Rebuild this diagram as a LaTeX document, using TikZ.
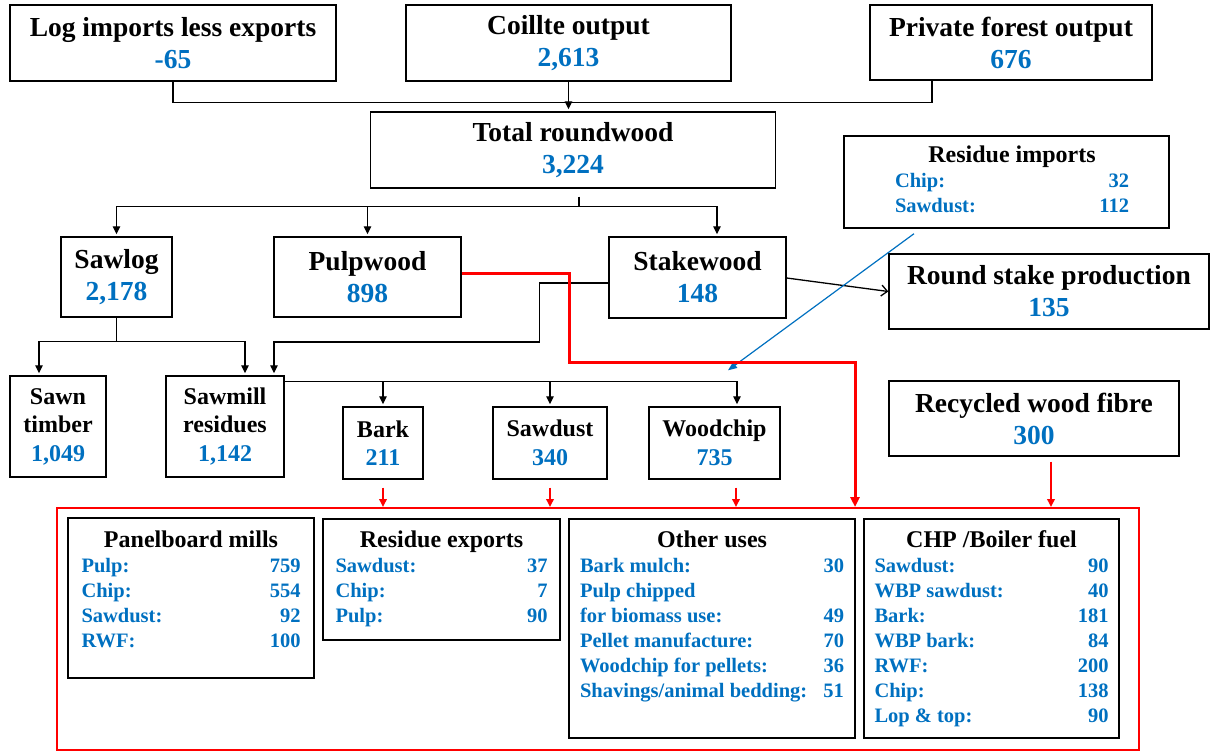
\documentclass[tikz,border=0pt]{standalone}
\usepackage{fontspec}
\setmainfont{Liberation Serif}
\usetikzlibrary{arrows.meta}
\definecolor{numblue}{RGB}{0,112,192}
\definecolor{flowred}{RGB}{255,0,0}
\newcommand{\bigfont}{\fontsize{27.5}{32}\selectfont\bfseries}
\newcommand{\midfont}{\fontsize{24}{28.5}\selectfont\bfseries}
\newcommand{\rowfont}{\fontsize{20.5}{25}\selectfont\bfseries}
\newcommand{\bluenum}[1]{\textcolor{numblue}{#1}}
\newcommand{\flowlist}[3]{\begin{tabular*}{#1}{@{}l@{\extracolsep{\fill}}r@{}}\multicolumn{2}{c}{\color{black}\fontsize{24}{25}\selectfont #2}\\#3\end{tabular*}}

\begin{document}
\begin{tikzpicture}[x=1pt,y=-1pt,
  flowbox/.style={draw, line width=1.4pt, align=center, inner sep=0pt, font=\bigfont},
  smallbox/.style={flowbox, font=\midfont},
  listbox/.style={draw, line width=1.4pt, inner sep=0pt},
  listtext/.style={anchor=north, inner sep=0pt, font=\rowfont, text=numblue},
  link/.style={line width=1.3pt},
  arr/.style={link, -{Triangle[length=8pt,width=7.5pt]}, shorten >=2pt},
  openarr/.style={link, -{Straight Barb[length=6pt,width=11pt]}},
  redarr/.style={line width=1.8pt, flowred, -{Triangle[length=8pt,width=7.5pt]}},
  redthick/.style={line width=3pt, flowred, -{Triangle[length=10pt,width=9pt]}},
  bluearr/.style={line width=1.2pt, numblue, -{Triangle[length=9pt,width=7pt]}}]
\useasboundingbox (0,0) rectangle (1211,752);

\node[flowbox, minimum width=326pt, minimum height=76pt] (logimp) at (173,43) {Log imports less exports\\\bluenum{-65}};
\node[flowbox, minimum width=325pt, minimum height=76pt] (coillte) at (568.5,43) {Coillte output\\\bluenum{2,613}};
\node[flowbox, minimum width=282pt, minimum height=75pt] (private) at (1011,42.5) {Private forest output\\\bluenum{676}};
\node[flowbox, minimum width=405pt, minimum height=76pt] (total) at (573,150) {Total roundwood\\\bluenum{3,224}};

\node[flowbox, minimum width=111pt, minimum height=80pt] (sawlog) at (116.5,277) {Sawlog\\\bluenum{2,178}};
\node[flowbox, minimum width=187pt, minimum height=80pt] (pulpwood) at (367.5,277) {Pulpwood\\\bluenum{898}};
\node[flowbox, minimum width=177pt, minimum height=81pt] (stakewood) at (697.5,277.5) {Stakewood\\\bluenum{148}};
\node[flowbox, minimum width=320pt, minimum height=75pt] (roundstake) at (1049,291.5) {Round stake production\\\bluenum{135}};
\node[listbox, minimum width=325pt, minimum height=92pt] (resimp) at (1006.5,182) {};
\node[listtext] (resimptext) at ([xshift=5.5pt,yshift=-9.5pt]resimp.north) {\flowlist{234pt}{Residue imports}{Chip: & 32\\ Sawdust: & 112}};

\node[smallbox, minimum width=96pt, minimum height=101pt] (sawn) at (58,426.5) {Sawn\\timber\\\bluenum{1,049}};
\node[smallbox, minimum width=118pt, minimum height=101pt] (sawmill) at (225,426.5) {Sawmill\\residues\\\bluenum{1,142}};
\node[smallbox, minimum width=80pt, minimum height=72pt] (bark) at (383,443) {Bark\\\bluenum{211}};
\node[smallbox, minimum width=114pt, minimum height=72pt] (sawdust) at (550,443) {Sawdust\\\bluenum{340}};
\node[smallbox, minimum width=131pt, minimum height=72pt] (woodchip) at (714.5,443) {Woodchip\\\bluenum{735}};
\node[flowbox, minimum width=290pt, minimum height=75pt] (rwf) at (1034,418.5) {Recycled wood fibre\\\bluenum{300}};

\node[draw=flowred, line width=2pt, minimum width=1082pt, minimum height=242pt] (usesframe) at (598,629) {};
\node[listbox, minimum width=246pt, minimum height=160pt] (panel) at (191,598) {};
\node[listtext] (paneltext) at ([yshift=-12.5pt]panel.north) {\flowlist{219pt}{Panelboard mills}{Pulp: & 759\\ Chip: & 554\\ Sawdust: & 92\\ RWF: & 100}};
\node[listbox, minimum width=237pt, minimum height=121pt] (resexp) at (441.5,579.5) {};
\node[listtext] (resexptext) at ([yshift=-11.5pt]resexp.north) {\flowlist{212pt}{Residue exports}{Sawdust: & 37\\ Chip: & 7\\ Pulp: & 90}};
\node[listbox, minimum width=286pt, minimum height=219pt] (otheruse) at (712,628.5) {};
\node[listtext] (otherusetext) at ([yshift=-11.5pt]otheruse.north) {\flowlist{264pt}{Other uses}{Bark mulch: & 30\\ Pulp chipped & \\ for biomass use: & 49\\ Pellet manufacture: & 70\\ Woodchip for pellets: & 36\\ Shavings/animal bedding: & 51}};
\node[listbox, minimum width=255pt, minimum height=219pt] (chp) at (991.5,628.5) {};
\node[listtext] (chptext) at ([yshift=-11.5pt]chp.north) {\flowlist{234pt}{CHP /Boiler fuel}{Sawdust: & 90\\ WBP sawdust: & 40\\ Bark: & 181\\ WBP bark: & 84\\ RWF: & 200\\ Chip: & 138\\ Lop \& top: & 90}};

\coordinate (rwsplit) at ([xshift=6pt,yshift=-18pt]total.south);
\coordinate (stakein) at ([xshift=19.5pt]stakewood.north);
\coordinate (sawsplit) at ([yshift=-24pt]sawlog.south);
\coordinate (millsplit) at ([yshift=-6pt]sawmill.north east);
\coordinate (chipin) at ([xshift=13.5pt,yshift=36pt]woodchip.north);
\coordinate (chipout) at ([xshift=21.5pt,yshift=-8pt]woodchip.south);
\coordinate (rwfout) at ([xshift=17pt,yshift=-5pt]rwf.south);

\draw[link] (logimp.south) |- ([xshift=-79pt,yshift=-22pt]private.south) -- ([xshift=-79pt]private.south);
\draw[arr] (coillte.south) -- (coillte.south |- total.north);
\draw[link] ([xshift=6pt,yshift=-8pt]total.south) -- (rwsplit);
\draw[arr] (rwsplit) -| (sawlog.north);
\draw[arr] (rwsplit) -| (stakein);
\draw[arr] (pulpwood.north |- rwsplit) -- (pulpwood.north);
\draw[link] (sawlog.south) -- (sawsplit);
\draw[arr] (sawsplit) -| ([xshift=-19pt]sawn.north);
\draw[arr] (sawsplit) -| ([xshift=20pt]sawmill.north);
\draw[arr] ([yshift=-5.5pt]stakewood.west) -- ++(-69pt,0) -- ++(0,-59pt) -| ([xshift=49pt]sawmill.north);
\draw[openarr] ([yshift=-0.5pt]stakewood.east) -- (roundstake.west);
\draw[arr] (millsplit) -| ([xshift=22.5pt]woodchip.north);
\draw[arr] (bark.north |- millsplit) -- (bark.north);
\draw[arr] (sawdust.north |- millsplit) -- (sawdust.north);
\draw[bluearr] ([xshift=-92.5pt,yshift=-5pt]resimp.south) -- (chipin);
\draw[redthick] ([yshift=4pt]pulpwood.east) -- ++(108pt,0) -- ++(0,-89pt) -| ([xshift=257pt]usesframe.north);
\draw[redarr] ([yshift=-8pt]bark.south) -- (bark.south |- usesframe.north);
\draw[redarr] ([yshift=-8pt]sawdust.south) -- (sawdust.south |- usesframe.north);
\draw[redarr] (chipout) -- (chipout |- usesframe.north);
\draw[redarr] (rwfout) -- (rwfout |- usesframe.north);
\end{tikzpicture}
\end{document}
